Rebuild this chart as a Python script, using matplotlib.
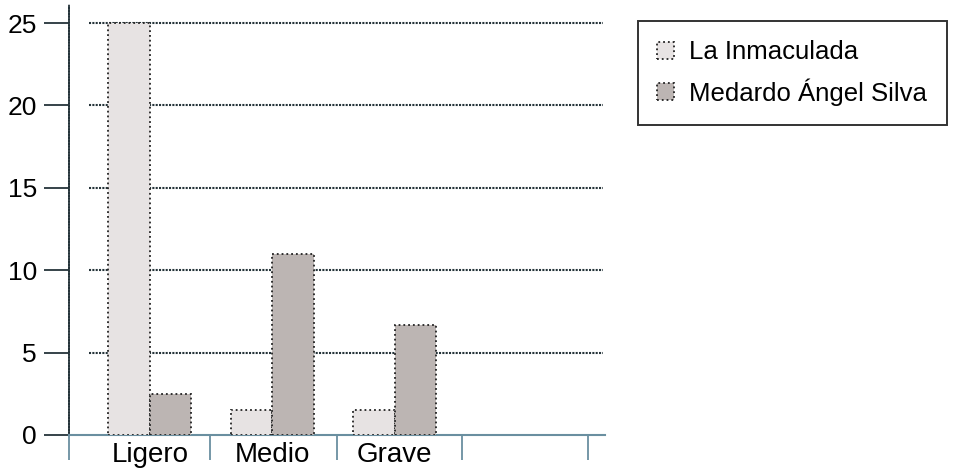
import matplotlib.pyplot as plt
import numpy as np

plt.rcParams['font.family'] = ['Liberation Sans', 'DejaVu Sans']

categorias = ['Ligero', 'Medio', 'Grave']
inmaculada = [25, 1.5, 1.5]
medardo = [2.5, 11, 6.7]
series = ['La Inmaculada', 'Medardo Ángel Silva']
yticks = [0, 5, 10, 15, 20, 25]

fig = plt.figure(figsize=(9.54, 4.68), dpi=100)
ax = fig.add_axes([69 / 954, 33 / 468, (605 - 69) / 954, (463 - 33) / 468])

x = np.arange(len(categorias))
w = 0.34

# horizontal grid lines, starting a bit right of the spine
for v in yticks[1:]:
    ax.hlines(v, -0.5, 3.7, color='#25343a', lw=1.5, linestyle=(0, (1, 0.6)), zorder=1)

ax.bar(x - w / 2, inmaculada, w, color='#e7e3e3', edgecolor='#222222',
       linewidth=1.3, linestyle=':', label=series[0], zorder=3)
ax.bar(x + w / 2, medardo, w, color='#bcb5b3', edgecolor='#222222',
       linewidth=1.3, linestyle=':', label=series[1], zorder=3)

ax.set_xlim(-0.66, 3.72)
ax.set_ylim(0, 26.1)

for s in ['top', 'right']:
    ax.spines[s].set_visible(False)
ax.spines['left'].set_color('#25343a')
ax.spines['left'].set_linestyle((0, (1, 0.6)))
ax.spines['left'].set_linewidth(1.3)
ax.spines['bottom'].set_color('#6a8fa0')
ax.spines['bottom'].set_linewidth(1.5)

ax.set_yticks(yticks)
ax.tick_params(axis='y', length=18, width=1.3, color='#25343a', pad=5, labelsize=19)

ax.set_xticks(x)
ax.set_xticklabels(categorias, fontsize=20)
ax.tick_params(axis='x', which='major', length=0, pad=5)
ax.set_xticks([-0.66, 0.49, 1.53, 2.55, 3.58], minor=True)
ax.tick_params(axis='x', which='minor', length=18, width=1.3, color='#6a8fa0', direction='out')

leg = fig.legend(loc='upper left', bbox_to_anchor=(638 / 954, 1 - 21 / 468), fontsize=18.5,
                 frameon=True, fancybox=False, edgecolor='black', borderpad=0.75,
                 borderaxespad=0, handlelength=0.65, handleheight=0.65,
                 handletextpad=0.6, labelspacing=0.55)
leg.get_frame().set_linewidth(1.4)

fig.savefig('out.png', dpi=100)
